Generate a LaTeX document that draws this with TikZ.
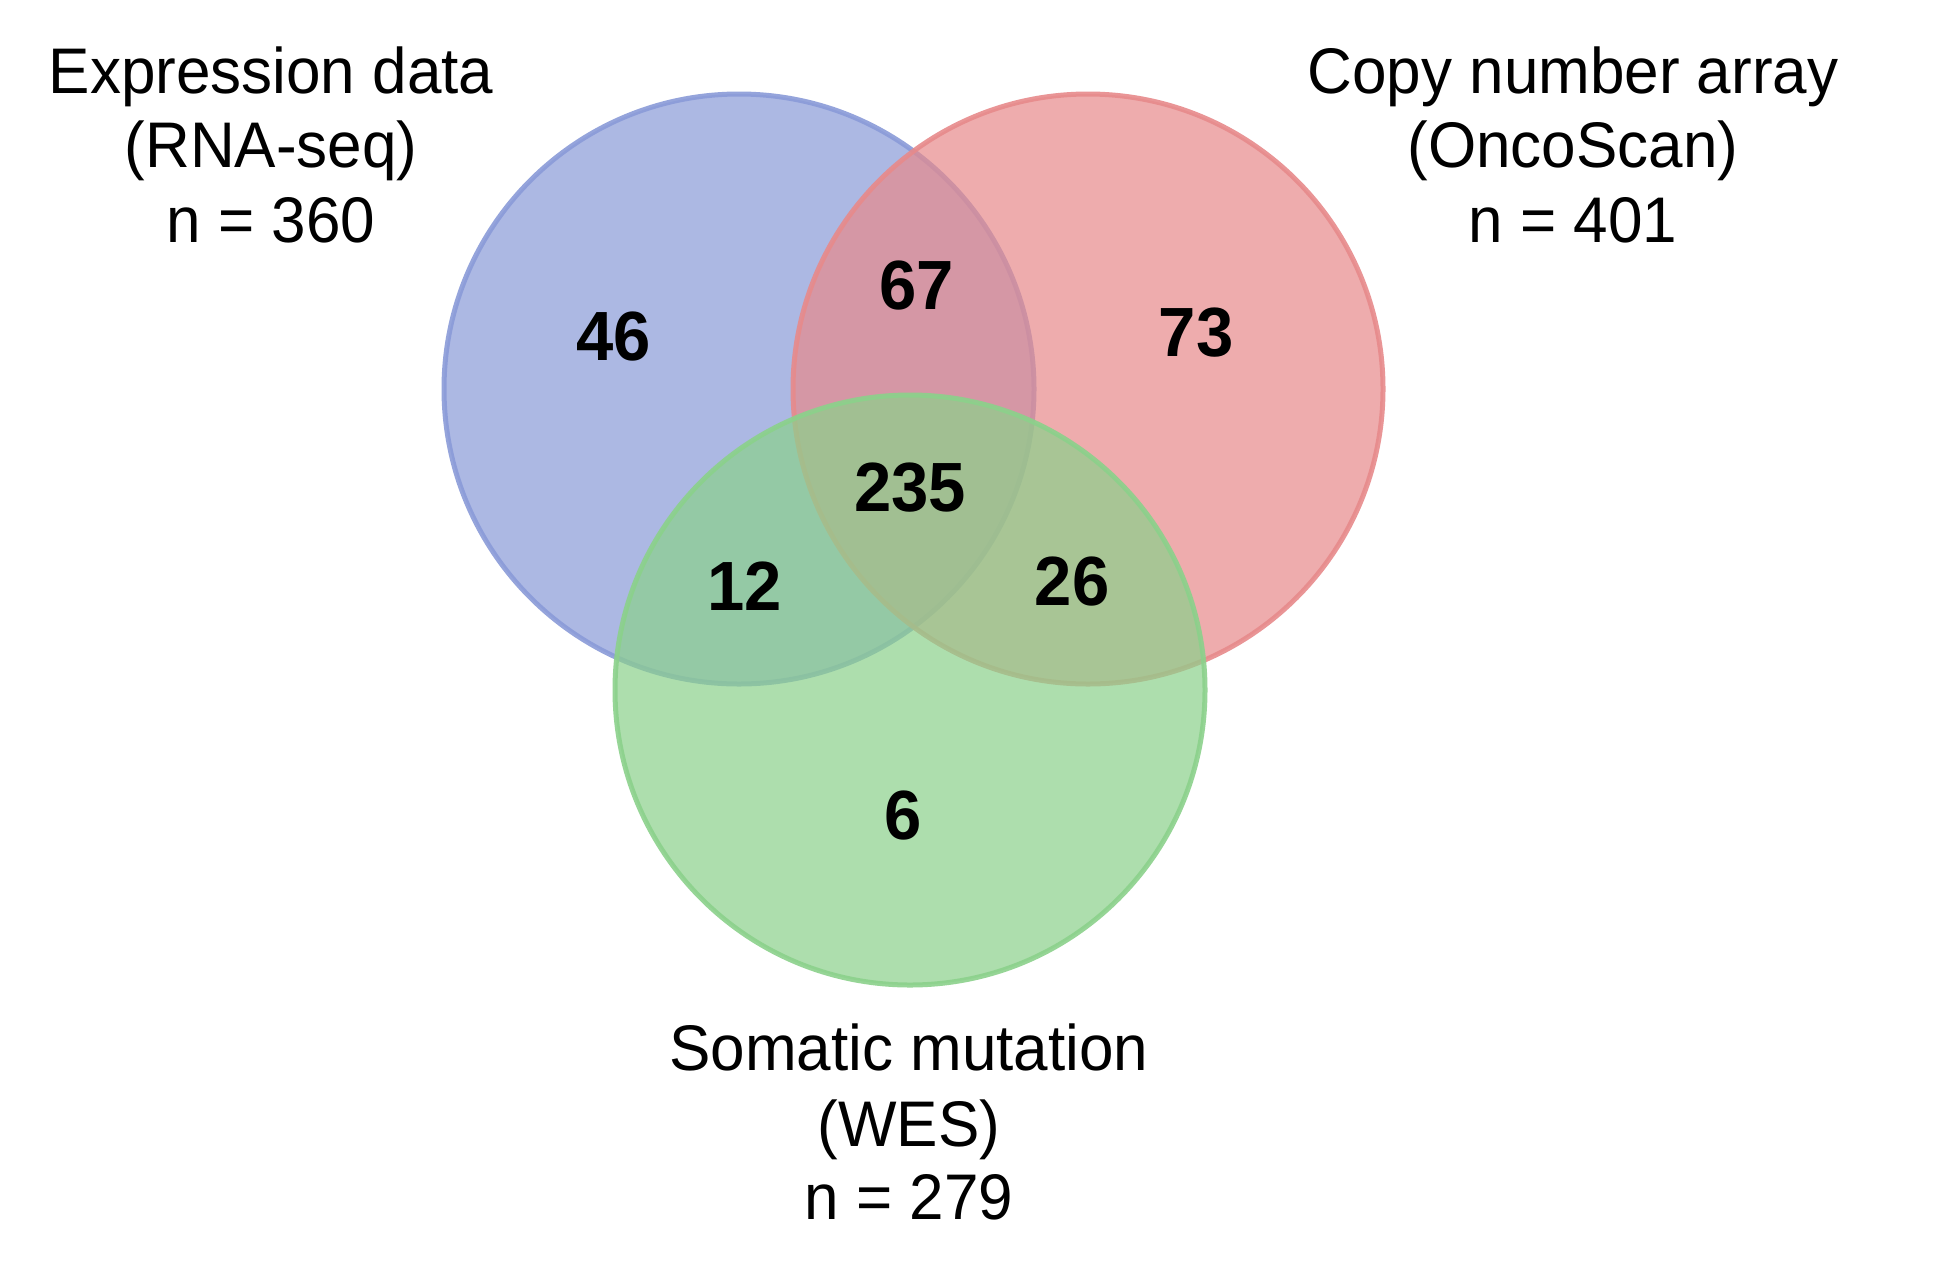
\documentclass[tikz,border=0pt]{standalone}
\usepackage{fontspec}
\setmainfont{Liberation Sans}
\definecolor{cblue}{RGB}{138,155,216}
\definecolor{cred}{RGB}{231,138,139}
\definecolor{cgreen}{RGB}{139,209,139}
\newcommand{\tallA}[1]{\scalebox{1}[1.04]{#1}}
\tikzset{
  setcirc/.style={circle, minimum size=590pt, inner sep=0pt, line width=5pt, fill opacity=0.7, draw opacity=0.9},
  lbl/.style={anchor=base, inner sep=0pt, font=\fontsize{62}{74}\selectfont},
  num/.style={anchor=center, inner sep=0pt, font=\fontsize{67}{80}\selectfont\bfseries}
}
\begin{document}
\begin{tikzpicture}[x=1pt,y=-1pt]
\useasboundingbox[fill=white] (0,0) rectangle (1954,1262);
\node[setcirc, draw=cblue, fill=cblue] (cb) at (739,389) {};
\node[setcirc, draw=cred, fill=cred] (cr) at (1088,389) {};
\node[setcirc, draw=cgreen, fill=cgreen] (cg) at (910,690) {};

\node[num] (n46) at (613.5,336.7) {\tallA{46}};
\node[num] (n67) at (916.7,285.8) {\tallA{67}};
\node[num] (n73) at (1196,333) {\tallA{73}};
\node[num] (n235) at (910,488) {\tallA{235}};
\node[num] (n12) at (745,585.8) {\tallA{12}};
\node[num] (n26) at (1072,581.7) {\tallA{26}};
\node[num] (n6) at (903.5,815) {\tallA{6}};

\node[lbl] (e1) at (271,93) {\tallA{Expression data}};
\node[lbl] (e2) at (271,167) {\tallA{(RNA-seq)}};
\node[lbl] (e3) at (271,242) {\tallA{n = 360}};

\node[lbl] (c1) at (1573,93) {\tallA{Copy number array}};
\node[lbl] (c2) at (1573,167) {\tallA{(OncoScan)}};
\node[lbl] (c3) at (1573,242) {\tallA{n = 401}};

\node[lbl] (s1) at (909,1070) {\tallA{Somatic mutation}};
\node[lbl] (s2) at (909,1146) {\tallA{(WES)}};
\node[lbl] (s3) at (909,1219) {\tallA{n = 279}};
\end{tikzpicture}
\end{document}
